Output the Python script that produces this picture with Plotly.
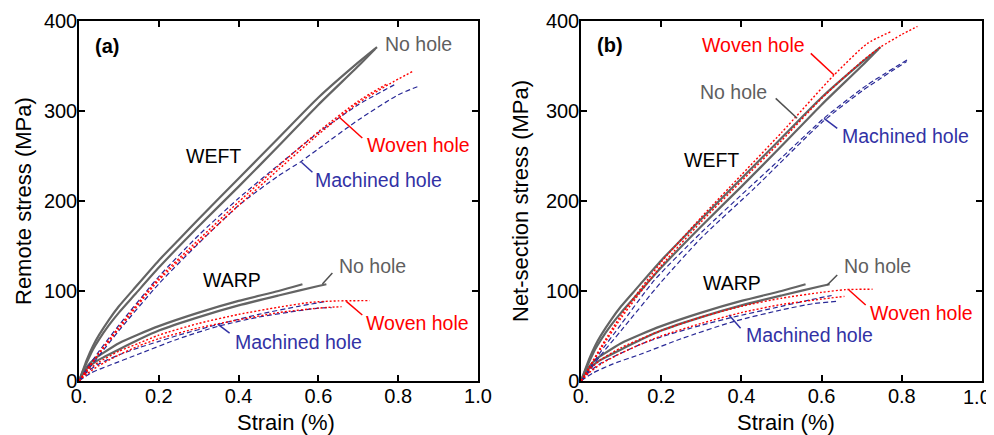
import plotly.graph_objects as go

# ---------------- data (strain %, stress MPa) ----------------
# No hole (identical specimens shown in both panels)
weft_nohole_1_strain = [0, 0.01, 0.02, 0.035, 0.05, 0.075, 0.1, 0.135, 0.2, 0.25, 0.3, 0.4, 0.5, 0.6, 0.7, 0.747]
weft_nohole_1_stress = [0, 12, 24, 39, 51, 68, 83, 101, 134, 157, 180, 225, 270, 315, 354, 371]
weft_nohole_2_strain = [0, 0.01, 0.02, 0.035, 0.05, 0.075, 0.1, 0.14, 0.2, 0.3, 0.4, 0.5, 0.6, 0.7, 0.742]
weft_nohole_2_stress = [0, 11, 21, 35, 46, 62, 76, 96, 126, 172, 216, 261, 307, 350, 369]
warp_nohole_1_strain = [0, 0.01, 0.02, 0.04, 0.06, 0.1, 0.15, 0.2, 0.3, 0.4, 0.5, 0.56]
warp_nohole_1_stress = [0, 9, 16, 25, 31, 42, 52, 61, 76, 89, 100, 107.5]
warp_nohole_2_strain = [0, 0.01, 0.02, 0.04, 0.06, 0.1, 0.15, 0.2, 0.3, 0.4, 0.5, 0.6, 0.62]
warp_nohole_2_stress = [0, 8, 14, 21, 26, 35, 46, 56, 71, 84, 95, 105.5, 107.5]

# Panel (a): remote stress
a_weft_woven_1_strain = [0, 0.02, 0.05, 0.1, 0.2, 0.3, 0.4, 0.5, 0.6, 0.6525, 0.7, 0.778, 0.836]
a_weft_woven_1_stress = [0, 12, 30, 58, 112, 154, 195, 235, 274, 293, 309, 330, 344]
a_weft_woven_2_strain = [0, 0.02, 0.05, 0.1, 0.2, 0.3, 0.4, 0.5, 0.6, 0.7, 0.775]
a_weft_woven_2_stress = [0, 13, 31, 60, 114, 157, 199, 239, 277, 311, 331]
a_weft_machined_1_strain = [0, 0.02, 0.05, 0.1, 0.2, 0.3, 0.4, 0.5, 0.6, 0.7, 0.79]
a_weft_machined_1_stress = [0, 14, 33, 62, 116, 162, 203, 240, 276, 307, 329]
a_weft_machined_2_strain = [0, 0.02, 0.05, 0.1, 0.2, 0.3, 0.4, 0.5, 0.557, 0.6, 0.7, 0.8, 0.848]
a_weft_machined_2_stress = [0, 11, 28, 56, 108, 153, 195, 228, 244, 258, 290, 318, 327]
a_warp_woven_1_strain = [0, 0.02, 0.05, 0.1, 0.15, 0.2, 0.3, 0.4, 0.5, 0.583, 0.65, 0.729]
a_warp_woven_1_stress = [0, 11, 21, 33, 42, 51, 64, 74, 82, 87.5, 89, 89.3]
a_warp_woven_2_strain = [0, 0.02, 0.05, 0.1, 0.15, 0.2, 0.3, 0.4, 0.5, 0.6, 0.658]
a_warp_woven_2_stress = [0, 8, 17, 29, 39, 47, 59, 68, 76, 81, 82.6]
a_warp_machined_1_strain = [0, 0.02, 0.05, 0.1, 0.15, 0.2, 0.25, 0.35, 0.45, 0.55, 0.62]
a_warp_machined_1_stress = [0, 10, 19, 29, 37, 44, 51, 63, 74, 83, 88.5]
a_warp_machined_2_strain = [0, 0.03, 0.08, 0.15, 0.25, 0.35, 0.45, 0.55, 0.6, 0.633]
a_warp_machined_2_stress = [0, 9, 18, 30, 47, 61, 71, 78, 81, 81.5]

# Panel (b): net-section stress
b_weft_woven_1_strain = [0, 0.02, 0.05, 0.1, 0.2, 0.3, 0.4, 0.5, 0.6, 0.7, 0.747, 0.8, 0.839]
b_weft_woven_1_stress = [0, 14, 36, 70, 128, 177, 222, 267, 314, 355, 371, 385, 394]
b_weft_woven_2_strain = [0, 0.02, 0.05, 0.1, 0.2, 0.3, 0.4, 0.5, 0.631, 0.714, 0.772]
b_weft_woven_2_stress = [0, 15, 38, 73, 132, 182, 229, 276, 340, 375, 388]
b_weft_machined_1_strain = [0, 0.02, 0.05, 0.1, 0.183, 0.3, 0.432, 0.5, 0.606, 0.714, 0.818]
b_weft_machined_1_stress = [0, 13, 33, 63, 112, 165, 220, 248, 292, 329, 358]
b_weft_machined_2_strain = [0, 0.02, 0.05, 0.1, 0.2, 0.3, 0.432, 0.6, 0.7, 0.812]
b_weft_machined_2_stress = [0, 11, 29, 56, 110, 159, 214, 287, 322, 355]
b_warp_woven_1_strain = [0, 0.02, 0.05, 0.1, 0.15, 0.2, 0.3, 0.4, 0.5, 0.6, 0.66, 0.727]
b_warp_woven_1_stress = [0, 12, 24, 37, 47, 56, 71, 83, 92, 98.5, 101.5, 102]
b_warp_woven_2_strain = [0, 0.02, 0.05, 0.1, 0.15, 0.2, 0.3, 0.4, 0.5, 0.6, 0.657]
b_warp_woven_2_stress = [0, 9, 19, 31, 41, 50, 64, 76, 85, 91, 94]
b_warp_machined_1_strain = [0, 0.02, 0.05, 0.1, 0.15, 0.2, 0.3, 0.38, 0.5, 0.57, 0.625]
b_warp_machined_1_stress = [0, 10, 20, 31, 41, 49, 62, 71, 83, 90, 95]
b_warp_machined_2_strain = [0, 0.03, 0.08, 0.15, 0.25, 0.38, 0.5, 0.58, 0.636]
b_warp_machined_2_stress = [0, 9, 19, 30, 47, 66, 79, 86, 88.5]

x_tick_vals = [0, 0.2, 0.4, 0.6, 0.8, 1.0]
x_tick_text = ["0.", "0.2", "0.4", "0.6", "0.8", "1.0"]
y_tick_vals = [0, 100, 200, 300, 400]
x_title = "Strain (%)"
y_titles = {"a": "Remote stress (MPa)", "b": "Net-section stress (MPa)"}

# ---------------- styles ----------------
FONT = "Liberation Sans, Arial, sans-serif"
GRAY = "rgb(100,100,100)"
RED = "rgb(255,0,0)"
BLUE = "rgb(40,40,150)"
BLUE_TXT = "rgb(50,50,165)"
GRAY_TXT = "rgb(95,95,95)"

styles = {
    "nohole": dict(color=GRAY, width=2.2, dash="solid"),
    "woven": dict(color=RED, width=1.4, dash="2px,2px"),
    "machined": dict(color=BLUE, width=1.2, dash="5px,3px"),
}

panels = {
    "a": [
        ("nohole", weft_nohole_1_strain, weft_nohole_1_stress),
        ("nohole", weft_nohole_2_strain, weft_nohole_2_stress),
        ("nohole", warp_nohole_1_strain, warp_nohole_1_stress),
        ("nohole", warp_nohole_2_strain, warp_nohole_2_stress),
        ("machined", a_weft_machined_1_strain, a_weft_machined_1_stress),
        ("machined", a_weft_machined_2_strain, a_weft_machined_2_stress),
        ("machined", a_warp_machined_1_strain, a_warp_machined_1_stress),
        ("machined", a_warp_machined_2_strain, a_warp_machined_2_stress),
        ("woven", a_weft_woven_1_strain, a_weft_woven_1_stress),
        ("woven", a_weft_woven_2_strain, a_weft_woven_2_stress),
        ("woven", a_warp_woven_1_strain, a_warp_woven_1_stress),
        ("woven", a_warp_woven_2_strain, a_warp_woven_2_stress),
    ],
    "b": [
        ("nohole", weft_nohole_1_strain, weft_nohole_1_stress),
        ("nohole", weft_nohole_2_strain, weft_nohole_2_stress),
        ("nohole", warp_nohole_1_strain, warp_nohole_1_stress),
        ("nohole", warp_nohole_2_strain, warp_nohole_2_stress),
        ("machined", b_weft_machined_1_strain, b_weft_machined_1_stress),
        ("machined", b_weft_machined_2_strain, b_weft_machined_2_stress),
        ("machined", b_warp_machined_1_strain, b_warp_machined_1_stress),
        ("machined", b_warp_machined_2_strain, b_warp_machined_2_stress),
        ("woven", b_weft_woven_1_strain, b_weft_woven_1_stress),
        ("woven", b_weft_woven_2_strain, b_weft_woven_2_stress),
        ("woven", b_warp_woven_1_strain, b_warp_woven_1_stress),
        ("woven", b_warp_woven_2_strain, b_warp_woven_2_stress),
    ],
}
axes_of = {"a": ("x", "y"), "b": ("x2", "y2")}

fig = go.Figure()
for key, curves in panels.items():
    xa, ya = axes_of[key]
    for kind, xs, ys in curves:
        st = styles[kind]
        fig.add_trace(go.Scatter(
            x=xs, y=ys, xaxis=xa, yaxis=ya, mode="lines",
            line=dict(color=st["color"], width=st["width"], dash=st["dash"],
                      shape="spline", smoothing=0.6),
            showlegend=False, hoverinfo="skip"))

# labels: (panel, text, x, y, color, bold, leader(x0,y0,x1,y1) or None)
labels = [
    ("a", "(a)", 0.07, 372, "black", True, None),
    ("a", "No hole", 0.85, 374, GRAY_TXT, False, None),
    ("a", "Woven hole", 0.851, 262, RED, False, (0.71, 270, 0.6525, 293)),
    ("a", "Machined hole", 0.751, 223, BLUE_TXT, False, (0.585, 232, 0.5575, 243)),
    ("a", "WEFT", 0.336, 250.5, "black", False, None),
    ("a", "WARP", 0.3825, 112, "black", False, None),
    ("a", "No hole", 0.736, 128.3, GRAY_TXT, False, (0.635, 120, 0.61, 107.8)),
    ("a", "Woven hole", 0.8475, 64.4, RED, False, (0.71, 73.3, 0.67, 88.5)),
    ("a", "Machined hole", 0.55, 42.8, BLUE_TXT, False, (0.3775, 53.3, 0.3475, 63.3)),
    ("b", "(b)", 0.072, 373, "black", True, None),
    ("b", "Woven hole", 0.431, 372.8, RED, False, (0.573, 364, 0.631, 340)),
    ("b", "No hole", 0.3815, 320.6, GRAY_TXT, False, (0.4855, 314, 0.539, 292)),
    ("b", "Machined hole", 0.809, 271.7, BLUE_TXT, False, (0.639, 280.8, 0.606, 291.9)),
    ("b", "WEFT", 0.3255, 245.6, "black", False, None),
    ("b", "WARP", 0.3766, 109.4, "black", False, None),
    ("b", "No hole", 0.739, 128.3, GRAY_TXT, False, (0.639, 117.8, 0.614, 106.7)),
    ("b", "Woven hole", 0.848, 76.1, RED, False, (0.71, 84.4, 0.668, 101.1)),
    ("b", "Machined hole", 0.5686, 50.6, BLUE_TXT, False, (0.398, 58.5, 0.369, 73.3)),
]
for panel, text, lx, ly, col, bold, leader in labels:
    xa, ya = axes_of[panel]
    fig.add_annotation(x=lx, y=ly, xref=xa, yref=ya, text=("<b>%s</b>" % text) if bold else text,
                       showarrow=False, xanchor="center", yanchor="middle",
                       font=dict(family=FONT, size=20 if bold else 19.5, color=col))
    if leader:
        x0, y0, x1, y1 = leader
        fig.add_shape(type="line", x0=x0, y0=y0, x1=x1, y1=y1, xref=xa, yref=ya,
                      line=dict(color=col if col != GRAY_TXT else "rgb(80,80,80)", width=1.5))

# figure is drawn inside the page body, which has an 8 px margin
W, H, OFF = 994, 435, 8
def xdom(p0, p1):
    return [(p0 - OFF) / W, (p1 - OFF) / W]
def ydom(top, bottom):
    return [(H - (bottom - OFF)) / H, (H - (top - OFF)) / H]
def px_x(p):
    return (p - OFF) / W
def px_y(p):
    return (H - (p - OFF)) / H

TITLE_FONT = dict(family=FONT, size=22, color="black")
TICK_FONT = dict(family=FONT, size=20, color="black")
# axis titles placed as paper annotations (window pixel positions)
title_pos = {"a": (285.5, 23), "b": (786, 520)}
for key, (xc, ytx) in title_pos.items():
    fig.add_annotation(x=px_x(xc), y=px_y(422), xref="paper", yref="paper", text=x_title,
                       showarrow=False, xanchor="center", yanchor="middle", font=TITLE_FONT)
    fig.add_annotation(x=px_x(ytx), y=px_y(201), xref="paper", yref="paper", text=y_titles[key],
                       showarrow=False, xanchor="center", yanchor="middle", textangle=-90,
                       font=TITLE_FONT)

# right panel: last strain tick label kept inside the page (as in the reference)
x_tick_text_b = x_tick_text[:-1] + [""]
fig.add_annotation(x=px_x(977), y=px_y(397), xref="paper", yref="paper", text=x_tick_text[-1],
                   showarrow=False, xanchor="center", yanchor="middle", font=TICK_FONT)

axis_common = dict(showline=True, linecolor="black", linewidth=1.5, mirror="allticks",
                   ticks="inside", ticklen=6, tickwidth=1.5, tickcolor="black",
                   showgrid=False, zeroline=False, automargin=False, ticklabelstandoff=-4,
                   ticklabeloverflow="allow", tickfont=TICK_FONT)

ycommon = dict(axis_common, range=[0, 400], tickvals=y_tick_vals)

fig.update_layout(
    width=W, height=H,
    margin=dict(l=0, r=0, t=0, b=0),
    paper_bgcolor="white", plot_bgcolor="white",
    xaxis=dict(axis_common, range=[0, 1.0], tickvals=x_tick_vals, ticktext=x_tick_text,
               domain=xdom(79, 478), anchor="y"),
    yaxis=dict(ycommon, domain=ydom(21, 381), anchor="x"),
    xaxis2=dict(axis_common, range=[0, 1.0], tickvals=x_tick_vals, ticktext=x_tick_text_b,
                domain=xdom(581, 982), anchor="y2"),
    yaxis2=dict(ycommon, domain=ydom(21, 381), anchor="x2"),
)

fig.write_html("out.html")
